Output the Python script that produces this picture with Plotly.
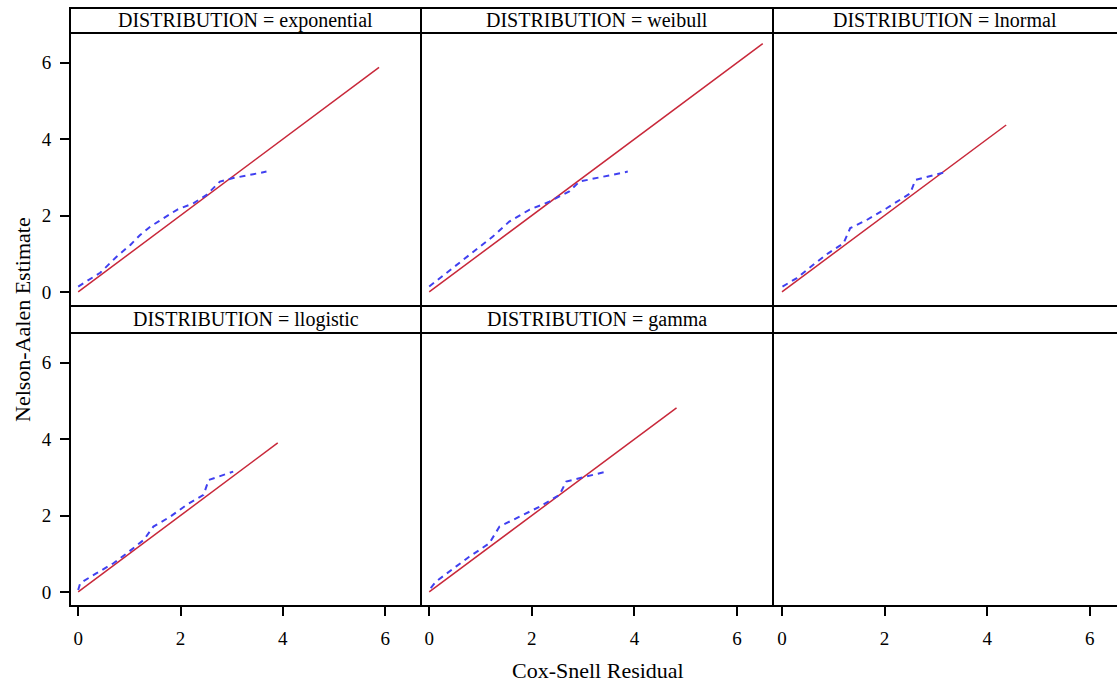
import plotly.graph_objects as go

# ---- data ----
distributions = ["exponential", "weibull", "lnormal", "llogistic", "gamma"]

cs_exponential = [0.00, 0.43, 0.75, 1.02, 1.21, 1.41, 1.67, 1.93, 2.25, 2.51, 2.77, 3.03, 3.68]
na_exponential = [0.14, 0.50, 0.92, 1.23, 1.49, 1.71, 1.93, 2.15, 2.32, 2.54, 2.89, 2.98, 3.15]

cs_weibull = [0.00, 0.33, 0.72, 0.98, 1.24, 1.56, 1.95, 2.34, 2.73, 2.93, 3.26, 3.87]
na_weibull = [0.14, 0.49, 0.92, 1.19, 1.45, 1.84, 2.15, 2.36, 2.63, 2.89, 2.98, 3.15]

cs_lnormal = [0.01, 0.29, 0.61, 0.90, 1.20, 1.33, 1.65, 2.04, 2.50, 2.60, 3.22]
na_lnormal = [0.14, 0.36, 0.71, 1.01, 1.27, 1.67, 1.88, 2.19, 2.58, 2.93, 3.15]

cs_llogistic = [0.00, 0.04, 0.36, 0.69, 0.95, 1.28, 1.47, 1.80, 2.12, 2.45, 2.55, 3.03]
na_llogistic = [0.05, 0.23, 0.49, 0.75, 1.01, 1.36, 1.71, 1.97, 2.28, 2.54, 2.93, 3.15]

cs_gamma = [0.03, 0.13, 0.52, 0.78, 1.17, 1.37, 1.76, 2.15, 2.54, 2.67, 3.06, 3.45]
na_gamma = [0.10, 0.27, 0.66, 0.92, 1.27, 1.71, 1.97, 2.23, 2.54, 2.89, 3.02, 3.15]

# reference line y = x runs from 0 to these residual maxima
ref_max = [5.88, 6.50, 4.37, 3.90, 4.82]

x_ticks = [0, 2, 4, 6]
y_ticks = [0, 2, 4, 6]

series_x = [cs_exponential, cs_weibull, cs_lnormal, cs_llogistic, cs_gamma]
series_y = [na_exponential, na_weibull, na_lnormal, na_llogistic, na_gamma]

# ---- layout geometry (pixels) ----
W, H = 1117, 686
col_px = [(70, 421), (421, 773), (773, 1117)]
frame_right_px = [421, 773, 1125]
row_plot_px = [(33, 306), (333, 606)]
row_strip_px = [(8, 33), (306, 333)]

def px_x(p):
    return p / W

def px_y(p):
    return 1 - p / H

FONT = "Liberation Serif, Times New Roman, serif"
RED = "#c8283a"
BLUE = "#4040f0"

fig = go.Figure()
layout_axes = {}
shapes = []
annotations = []

for idx in range(6):
    r, c = divmod(idx, 3)
    n = idx + 1
    xa = "xaxis" if n == 1 else f"xaxis{n}"
    ya = "yaxis" if n == 1 else f"yaxis{n}"
    xref = "x" if n == 1 else f"x{n}"
    yref = "y" if n == 1 else f"y{n}"
    x0, x1 = col_px[c]
    yt, yb = row_plot_px[r]
    if c == 2:
        xrange = [-0.175, -0.175 + (x1 - x0) / 51.3]
    else:
        xrange = [-0.16, 6.7]
    layout_axes[xa] = dict(
        domain=[px_x(x0), px_x(x1)], anchor=yref, range=xrange,
        tickvals=x_ticks, showticklabels=(r == 1),
        ticks="outside" if r == 1 else "", ticklen=9, tickwidth=1.5, tickcolor="black",
        ticklabelstandoff=6,
        showgrid=False, zeroline=False, showline=False,
        tickfont=dict(family=FONT, size=19, color="black"),
    )
    layout_axes[ya] = dict(
        domain=[px_y(yb), px_y(yt)], anchor=xref, range=[-0.37, 6.78],
        tickvals=y_ticks, showticklabels=(c == 0),
        ticks="outside" if c == 0 else "", ticklen=9, tickwidth=1.5, tickcolor="black",
        ticklabelstandoff=5,
        showgrid=False, zeroline=False, showline=False,
        tickfont=dict(family=FONT, size=19, color="black"),
    )
    # panel frame
    sy0, sy1 = row_strip_px[r]
    fx1 = frame_right_px[c]
    shapes.append(dict(type="rect", xref="paper", yref="paper",
                       x0=px_x(x0), x1=px_x(fx1), y0=px_y(yb), y1=px_y(sy0),
                       line=dict(color="black", width=2), fillcolor="rgba(0,0,0,0)", layer="above"))
    shapes.append(dict(type="line", xref="paper", yref="paper",
                       x0=px_x(x0), x1=px_x(fx1), y0=px_y(sy1), y1=px_y(sy1),
                       line=dict(color="black", width=2), layer="above"))
    if idx < 5:
        annotations.append(dict(
            text=f"DISTRIBUTION = {distributions[idx]}", xref="paper", yref="paper",
            x=(px_x(x0) + px_x(x1)) / 2, y=(px_y(sy0) + px_y(sy1)) / 2,
            xanchor="center", yanchor="middle", showarrow=False,
            font=dict(family=FONT, size=20, color="black")))
        fig.add_trace(go.Scatter(
            x=[0, ref_max[idx]], y=[0, ref_max[idx]], mode="lines",
            line=dict(color=RED, width=1.5), xaxis=xref, yaxis=yref, showlegend=False))
        fig.add_trace(go.Scatter(
            x=series_x[idx], y=series_y[idx], mode="lines",
            line=dict(color=BLUE, width=2, dash="6px,5px"), xaxis=xref, yaxis=yref,
            showlegend=False))
    else:
        # empty panel: keep its axis drawn
        fig.add_trace(go.Scatter(x=[], y=[], mode="lines", xaxis=xref, yaxis=yref,
                                 showlegend=False, hoverinfo="skip"))

annotations.append(dict(text="Nelson-Aalen Estimate", xref="paper", yref="paper",
                        x=px_x(22), y=px_y(320), textangle=-90, showarrow=False,
                        xanchor="center", yanchor="middle",
                        font=dict(family=FONT, size=22, color="black")))
annotations.append(dict(text="Cox-Snell Residual", xref="paper", yref="paper",
                        x=px_x(598), y=px_y(670), showarrow=False,
                        xanchor="center", yanchor="middle",
                        font=dict(family=FONT, size=22, color="black")))

fig.update_layout(
    width=W, height=H, margin=dict(l=0, r=0, t=0, b=0),
    paper_bgcolor="white", plot_bgcolor="white",
    shapes=shapes, annotations=annotations, showlegend=False,
    **layout_axes,
)

fig.write_html("out.html")
